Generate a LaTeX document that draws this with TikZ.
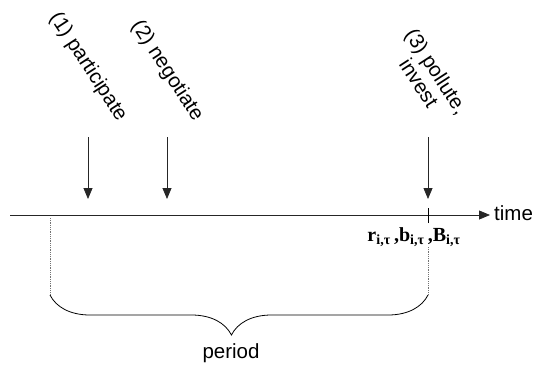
\documentclass[tikz,border=0pt]{standalone}
\usepackage{fontspec}
\setmainfont{Liberation Sans}
\newfontfamily\labelfont{Liberation Serif}
\usepackage{tikz}
\usetikzlibrary{positioning, arrows.meta, decorations.pathreplacing}
\tikzset{
    step label/.style={
        rotate = -57,
        align = center,
        inner sep = 0pt,
        font = \fontsize{20.5}{21}\selectfont
    },
    every node/.style = {node distance=0.5cm},
    line/.style = {-{Triangle[width=9pt,length=11pt]}, color=black!85, line width=0.8pt},
    guide/.style = {densely dotted, color=black!55, line width=0.8pt}
}

\begin{document}
\begin{tikzpicture}[x=1pt, y=-1pt]

                            \useasboundingbox (0,0) rectangle (543,365);

                            % time axis
                            \coordinate (start) at (10,215);
                            \coordinate (tick) at (428,215);
                            \node[anchor=west, inner sep=0pt, font=\fontsize{20.5}{21}\selectfont] (time) at (494,213) {time};
                            \coordinate (end) at (490,215);
                            \draw[line] (start) -- (end);
                            \draw[line width=0.8pt] ([yshift=-8pt]tick) -- ([yshift=7pt]tick);

                            % the three steps
                            \node[step label] (participate) at (88,67) {(1) participate};
                            \node[step label] (negotiate) at (167,71) {(2) negotiate};
                            \node[step label] (pollute) at (428,77) {(3) pollute,\\invest};

                            \coordinate (a1) at (88,137);
                            \coordinate (a2) at (167,137);
                            \coordinate (a3) at (428,137);
                            \draw[line] (a1) -- (88,199);
                            \draw[line] (a2) -- (167,199);
                            \draw[line] (a3) -- (428,199);

                            \node[inner sep=0pt, font=\labelfont\bfseries\fontsize{20}{21}\selectfont] (state) at (414,237)
                                {r\textsubscript{i,τ}\,,b\textsubscript{i,τ}\,,B\textsubscript{i,τ}};

                            % period
                            \coordinate (p0) at (50,295);
                            \coordinate (p1) at (428,295);
                            \draw[guide] (50,218) -- (p0);
                            \draw[guide] (428,247) -- (p1);
                            \draw[line width=0.8pt, decorate, decoration={brace, mirror, amplitude=40pt, aspect=0.48}] (p0) -- (p1);
                            \node[font=\fontsize{20.5}{21}\selectfont] (period) at (231,353) {period};

                        \end{tikzpicture}
\end{document}
